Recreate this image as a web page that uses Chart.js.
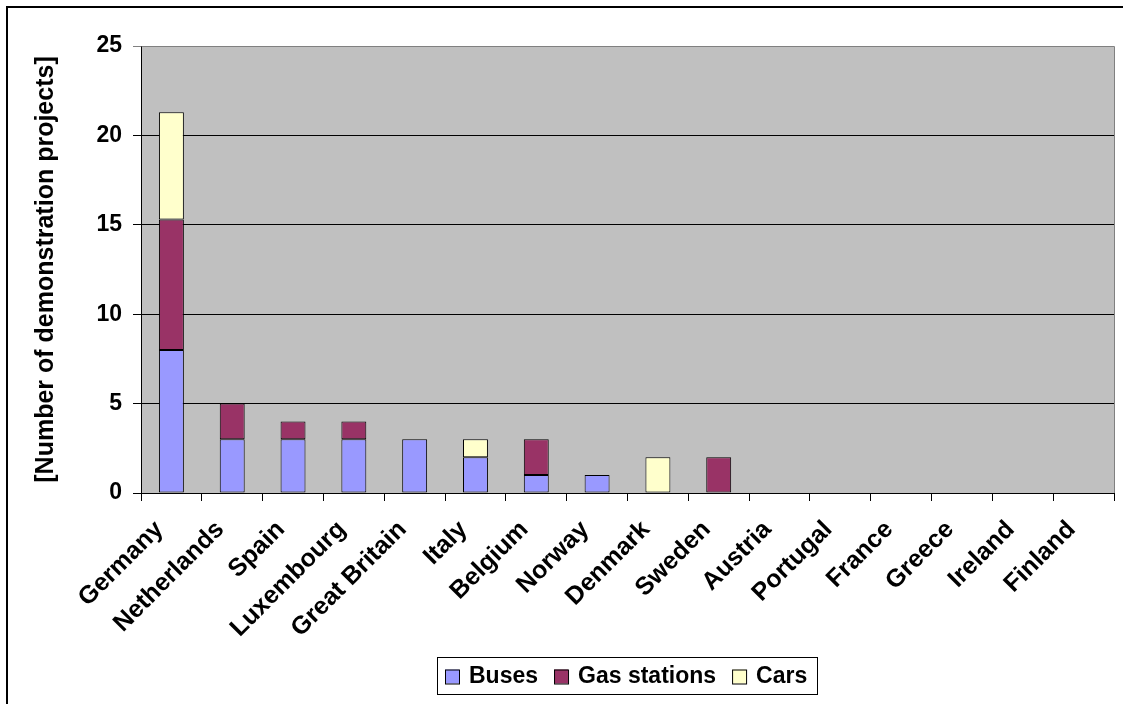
<!DOCTYPE html>
<html>
<head>
<meta charset="utf-8">
<script src="https://cdn.jsdelivr.net/npm/chart.js@4.4.1/dist/chart.umd.min.js"></script>
<style>
  html, body { margin: 0; padding: 0; background: #ffffff; }
  #wrap { width: 1123px; height: 704px; }
</style>
</head>
<body>
<div id="wrap"><canvas id="chart" width="1123" height="704"></canvas></div>
<script>
// Countries, in order of the number of projects
const categories = ['Germany', 'Netherlands', 'Spain', 'Luxembourg', 'Great Britain', 'Italy',
  'Belgium', 'Norway', 'Denmark', 'Sweden', 'Austria', 'Portugal', 'France', 'Greece',
  'Ireland', 'Finland'];

// Demonstration projects per country and type
const busesValues       = [8, 3, 3, 3, 3, 2, 1, 1, 0, 0, 0, 0, 0, 0, 0, 0];
const gasStationValues  = [7.3, 2, 1, 1, 0, 0, 2, 0, 0, 2, 0, 0, 0, 0, 0, 0];
const carValues         = [6, 0, 0, 0, 0, 1, 0, 0, 2, 0, 0, 0, 0, 0, 0, 0];

const seriesNames = ['Buses', 'Gas stations', 'Cars'];
const seriesColors = ['#9999FF', '#993366', '#FFFFCC'];

// Value axis
const yMin = 0;
const yMax = 25;
const yStep = 5;
const yTitle = '[Number of demonstration projects]';

const FONT = '"Liberation Sans", Arial, Helvetica, sans-serif';

// Outer frame, grey plot background, plot border and legend box
const framePlugin = {
  id: 'frame',
  beforeDraw(chart) {
    const ctx = chart.ctx;
    const a = chart.chartArea;
    ctx.save();
    ctx.fillStyle = '#ffffff';
    ctx.fillRect(0, 0, chart.width, chart.height);
    ctx.strokeStyle = '#000000';
    ctx.lineWidth = 2;
    ctx.strokeRect(7, 7, chart.width + 20, chart.height + 20);
    ctx.fillStyle = '#C0C0C0';
    ctx.fillRect(a.left, a.top, a.right - a.left, a.bottom - a.top);
    ctx.restore();
  },
  afterDraw(chart) {
    const ctx = chart.ctx;
    const a = chart.chartArea;
    ctx.save();
    ctx.strokeStyle = '#808080';
    ctx.lineWidth = 1;
    ctx.beginPath();
    ctx.moveTo(Math.round(a.left) + 0.5, Math.round(a.top) + 0.5);
    ctx.lineTo(Math.round(a.right) + 0.5, Math.round(a.top) + 0.5);
    ctx.lineTo(Math.round(a.right) + 0.5, Math.round(a.bottom));
    ctx.stroke();

    // Legend box below the plot
    const box = { x: 437, y: 657, w: 380, h: 37 };
    ctx.strokeStyle = '#000000';
    ctx.lineWidth = 1;
    ctx.strokeRect(box.x + 0.5, box.y + 0.5, box.w, box.h);
    ctx.font = 'bold 23px ' + FONT;
    ctx.textBaseline = 'middle';
    ctx.textAlign = 'left';
    let x = box.x + 8;
    const cy = box.y + box.h / 2 + 1;
    chart.data.datasets.forEach((ds) => {
      ctx.fillStyle = ds.backgroundColor;
      ctx.fillRect(x, cy - 7, 14, 14);
      ctx.strokeStyle = '#000000';
      ctx.strokeRect(x + 0.5, cy - 7 + 0.5, 14, 14);
      x += 24;
      ctx.fillStyle = '#000000';
      ctx.fillText(ds.label, x, cy);
      x += ctx.measureText(ds.label).width + 16;
    });
    ctx.restore();
  }
};

const seriesValues = [busesValues, gasStationValues, carValues];

new Chart(document.getElementById('chart'), {
  type: 'bar',
  data: {
    labels: categories,
    datasets: seriesNames.map((name, i) => ({
      label: name,
      data: seriesValues[i],
      backgroundColor: seriesColors[i],
      borderColor: '#000000',
      borderWidth: 1,
      borderSkipped: false,
      categoryPercentage: 1,
      barPercentage: 0.41
    }))
  },
  options: {
    responsive: false,
    animation: false,
    devicePixelRatio: 1,
    layout: { padding: { left: 0, right: 9, top: 46, bottom: 0 } },
    plugins: {
      legend: { display: false },
      tooltip: { enabled: false }
    },
    scales: {
      x: {
        stacked: true,
        offset: true,
        afterFit(scale) { scale.height = 211; },
        grid: {
          offset: true,
          drawOnChartArea: false,
          drawTicks: true,
          tickLength: 8,
          color: '#000000',
          lineWidth: 1
        },
        border: { color: '#000000', width: 1 },
        ticks: {
          autoSkip: false,
          minRotation: 45,
          maxRotation: 45,
          padding: 14,
          labelOffset: -12,
          color: '#000000',
          font: { family: FONT, size: 25, weight: 'bold' }
        }
      },
      y: {
        stacked: true,
        min: yMin,
        max: yMax,
        afterFit(scale) { scale.width = 141; },
        grid: {
          drawTicks: true,
          tickLength: 8,
          color: (c) => (c.tick && c.tick.value === yMax ? '#808080' : '#000000'),
          lineWidth: 1
        },
        border: { color: '#000000', width: 1 },
        ticks: {
          stepSize: yStep,
          padding: 11,
          color: '#000000',
          font: { family: FONT, size: 23, weight: 'bold' }
        },
        title: {
          display: true,
          text: yTitle,
          color: '#000000',
          padding: { top: 31, bottom: 0 },
          font: { family: FONT, size: 25, weight: 'bold' }
        }
      }
    }
  },
  plugins: [framePlugin]
});
</script>
</body>
</html>
